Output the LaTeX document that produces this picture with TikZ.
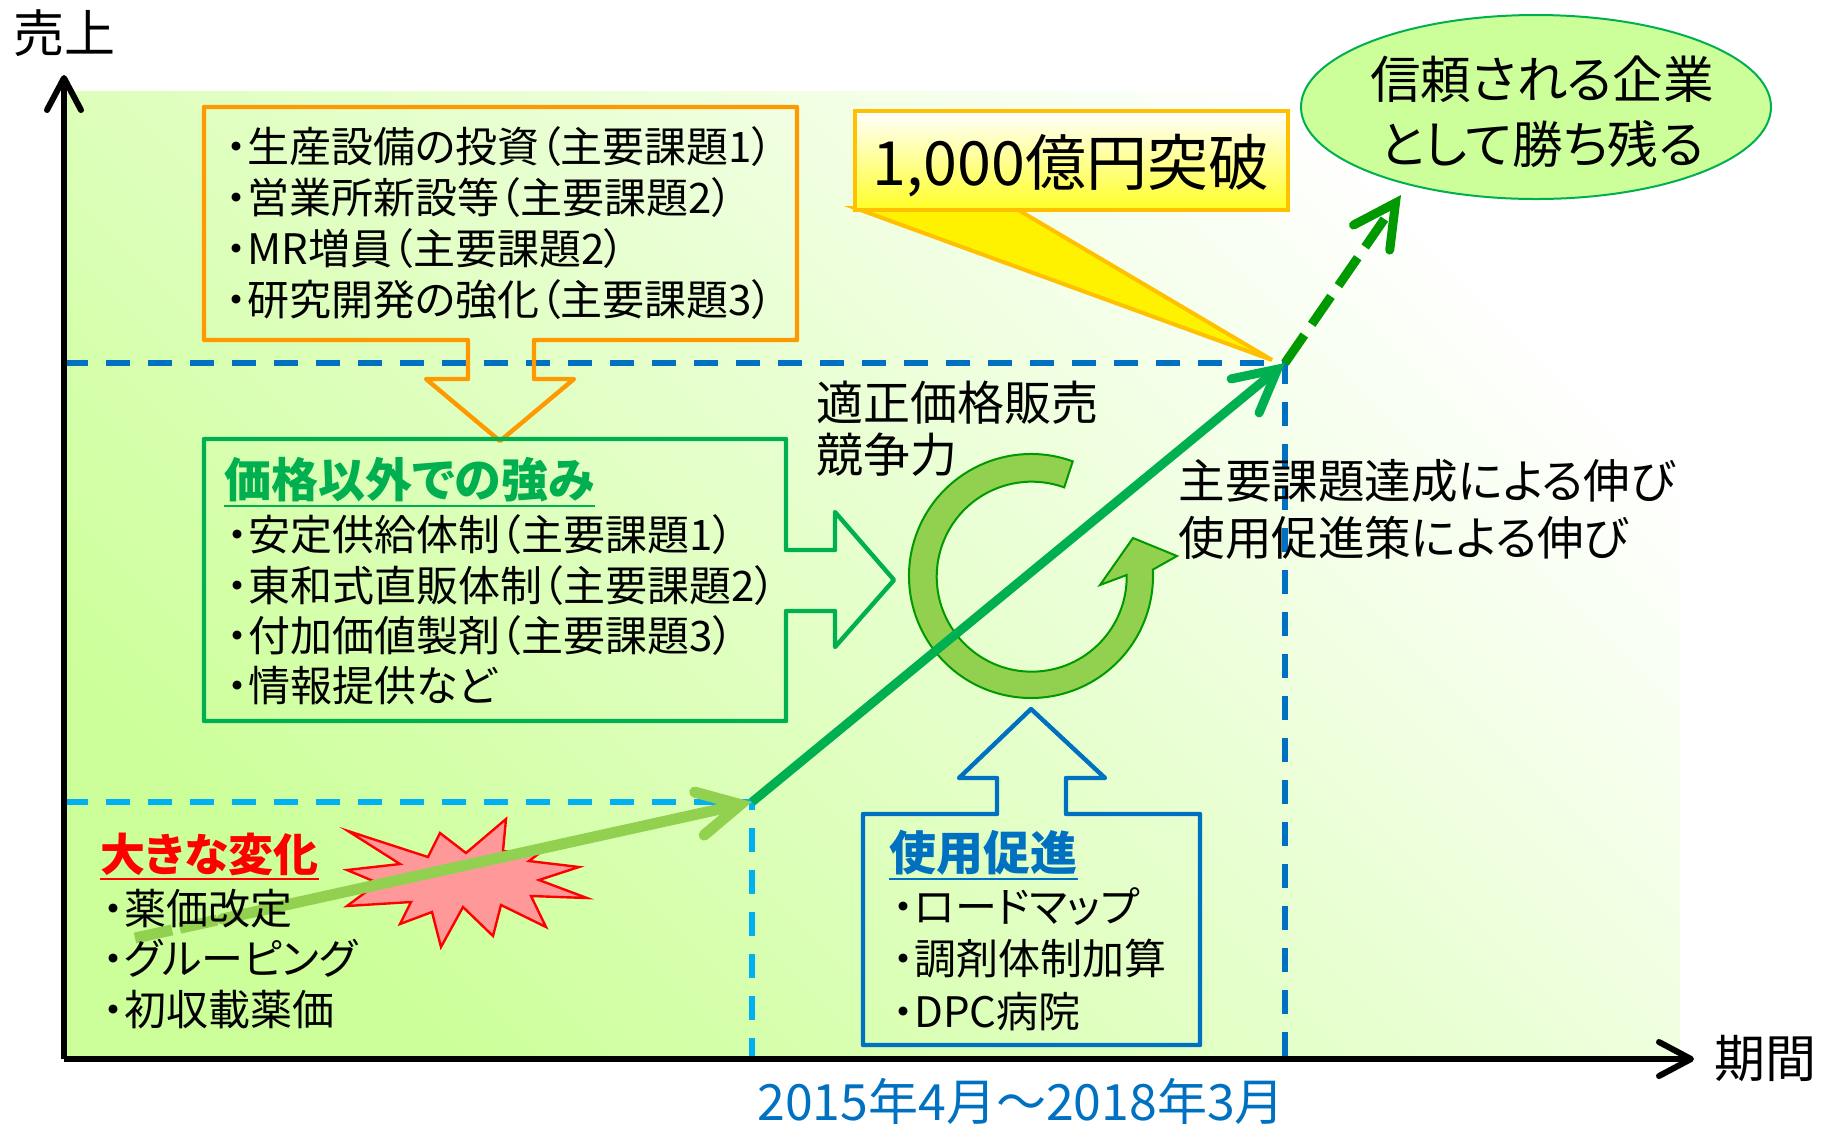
\documentclass[tikz,border=0pt]{standalone}
\usepackage{fontspec}
\setmainfont{Noto Sans CJK JP}[CharacterWidth=AlternateProportional]
\usepackage{xcolor}
\usetikzlibrary{arrows.meta,positioning}
\definecolor{bgGreen}{HTML}{CCFF99}
\definecolor{lineOrange}{HTML}{FF9900}
\definecolor{lineGold}{HTML}{FFC000}
\definecolor{okGreen}{HTML}{00B050}
\definecolor{leafGreen}{HTML}{92D050}
\definecolor{deepGreen}{HTML}{009900}
\definecolor{darkBlue}{HTML}{0070C0}
\definecolor{skyBlue}{HTML}{00B0F0}
\definecolor{burstPink}{HTML}{FF9999}

\begin{document}
\begin{tikzpicture}[
  x=0.5pt, y=-0.5pt,
  txt/.style={inner sep=0pt, align=left, anchor=west},
  list/.style={txt, font=\fontsize{21}{25.5}\selectfont},
  head/.style={txt, font=\bfseries\fontsize{23.5}{28}\selectfont},
  callout/.style={line width=2.2pt, line join=round},
  guide/.style={line width=2.7pt, dash pattern=on 12pt off 9pt},
  axis/.style={line width=3pt, -{Straight Barb[length=16pt,width=17pt,round]}},
  trend/.style={line width=5.5pt, line cap=round, -{Straight Barb[length=21pt,width=22pt,line cap=round,line join=miter]}},
  axislabel/.style={inner sep=0pt, font=\fontsize{25.5}{25.5}\selectfont}
]
\useasboundingbox (0,0) rectangle (1821,1126);

% BACKGROUND
\shade[top color=white, bottom color=bgGreen, shading angle=-45] (64,91) rectangle (1680,1059);

% KEY POINTS
\coordinate (o) at (64,1059);
\coordinate (ytop) at (64,75);
\coordinate (xend) at (1694,1059);
\coordinate (p0) at (135,938);
\coordinate (p0b) at (222,919);
\coordinate (p1) at (752,802);
\coordinate (p2) at (1285,363);
\coordinate (p3) at (1401,195);
\coordinate (lo west) at (64,802);
\coordinate (lo foot) at (752,1059);
\coordinate (hi west) at (64,363);
\coordinate (hi foot) at (1285,1059);

% GUIDES
\draw[guide, skyBlue] (lo west) -- (p1) -- (lo foot);
\draw[guide, darkBlue] (hi west) -- (p2) -- (hi foot);

% CALLOUTS
\draw[callout, lineOrange] (204,107) -- (797,107) -- (797,340) -- (534,340) -- (534,379) -- (574,379)
  -- (500,441) -- (426,379) -- (468,379) -- (468,340) -- (204,340) -- cycle;
\draw[callout, okGreen] (204,439) -- (786,439) -- (786,550) -- (835,550) -- (835,512) -- (894,580)
  -- (835,647) -- (835,611) -- (786,611) -- (786,721) -- (204,721) -- cycle;
\draw[callout, darkBlue] (863,814) -- (997,814) -- (997,778) -- (959,778) -- (1031,709) -- (1105,778)
  -- (1066,778) -- (1066,814) -- (1200,814) -- (1200,1045) -- (863,1045) -- cycle;

% MILESTONE
\filldraw[fill=yellow, draw=lineGold, line width=2pt, line join=miter] (855,208) -- (1272,360) -- (1015,208) -- cycle;
\shade[top color=white, bottom color=yellow!85!white, draw=lineGold, line width=2.2pt] (855,111) rectangle (1288,210);

% GOAL
\coordinate (goal c) at (1536,107);
\filldraw[fill=bgGreen, draw=okGreen, line width=1pt] (goal c) ellipse [x radius=235, y radius=92];

% BURST
\filldraw[fill=burstPink, draw=red, line width=1.2pt] (348,831) -- (400,864) -- (347,870) -- (378,883)
  -- (347,906) -- (411,902) -- (400,924) -- (432,912) -- (441,947) -- (463,907) -- (493,936)
  -- (501,905) -- (546,927) -- (531,896) -- (587,898) -- (539,880) -- (579,867) -- (529,861)
  -- (537,855) -- (503,851) -- (506,819) -- (466,853) -- (440,833) -- (428,857) -- cycle;

% CYCLE
\coordinate (cyc) at (1031,576);
\filldraw[fill=leafGreen, draw=deepGreen, line width=1pt]
  ([shift={(-70:122)}]cyc) arc[start angle=-70, end angle=-363, radius=122]
  -- (1177,556) -- (1133,538) -- (1100,585) -- (1126.7,575)
  arc[start angle=-361, end angle=-70, radius=95] -- cycle;

% TREND
\draw[leafGreen, line width=5.5pt, dash pattern=on 19pt off 4pt] (p0) -- (p0b);
\draw[trend, leafGreen] (p0b) -- (p1);
\draw[trend, okGreen, line width=4.5pt, line cap=butt] (p1) -- (p2);
\draw[trend, deepGreen, line width=4.5pt, line cap=butt, dash pattern=on 17pt off 6.5pt] (p2) -- (p3);

% AXES
\draw[axis] (o) -- (ytop);
\draw[axis] (o) -- (xend);
\node[axislabel, above=9pt of ytop] (sales) {売上};
\node[axislabel, right=10pt of xend] (term) {期間};
\node[inner sep=0pt, darkBlue, font=\fontsize{25}{25}\selectfont] (period) at (1021,1101) {2015年4月～2018年3月};

% TEXTS
\node[list] (invest) at (226,223)
{・生産設備の投資（主要課題1）\\・営業所新設等（主要課題2）\\・MR増員（主要課題2）\\・研究開発の強化（主要課題3）};

\node[head, okGreen] (strength) at (224,480) {価格以外での強み};
\draw[okGreen, line width=1.1pt] ([yshift=-1.5pt]strength.south west) -- ([yshift=-1.5pt]strength.south east);
\node[list, font=\fontsize{21}{25.2}\selectfont] (strength list) at (227,610)
{・安定供給体制（主要課題1）\\・東和式直販体制（主要課題2）\\・付加価値製剤（主要課題3）\\・情報提供など};

\node[head, red, font=\bfseries\fontsize{22.5}{26}\selectfont] (change) at (100,854) {大きな変化};
\draw[red, line width=1.1pt] ([yshift=-1.5pt]change.south west) -- ([yshift=-1.5pt]change.south east);
\node[list, font=\fontsize{21}{25.25}\selectfont] (change list) at (103,959)
{・薬価改定\\・グルーピング\\・初収載薬価};

\node[head, darkBlue] (promo) at (889,853) {使用促進};
\draw[darkBlue, line width=1.1pt] ([yshift=-1.5pt]promo.south west) -- ([yshift=-1.5pt]promo.south east);
\node[list, font=\fontsize{21}{26.25}\selectfont] (promo list) at (893,959)
{・ロードマップ\\・調剤体制加算\\・DPC病院};

\node[txt, font=\fontsize{23.5}{26}\selectfont] (price) at (816,429) {適正価格販売\\競争力};
\node[txt, font=\fontsize{23.3}{28.5}\selectfont] (growth) at (1178,509.5) {主要課題達成による伸び\\使用促進策による伸び};

\node[inner sep=0pt, font=\fontsize{30.5}{30.5}\selectfont] (milestone) at (1071,166) {1,000億円突破};
\node[inner sep=0pt, align=center, font=\fontsize{25.3}{32.5}\selectfont] (goal) at (1542,112) {信頼される企業\\として勝ち残る};

\end{tikzpicture}
\end{document}
